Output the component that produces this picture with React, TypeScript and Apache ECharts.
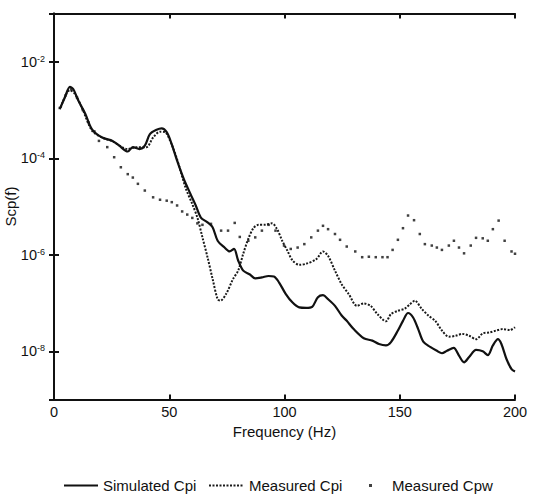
import React, { useEffect, useRef } from "react";
import * as echarts from "echarts";

// Frequency (Hz) / spectral value pairs, one array per curve
const simulatedCpi: [number, number][] = [
  [2.5, 1.05e-3], [4.7, 1.82e-3], [6.9, 3.02e-3], [8.4, 2.69e-3], [10.6, 1.55e-3],
  [13.6, 8.3e-4], [16.5, 3.98e-4], [20.9, 2.69e-4], [25.4, 2.29e-4], [28.3, 1.82e-4],
  [32.0, 1.38e-4], [34.2, 1.7e-4], [37.1, 1.55e-4], [39.4, 1.82e-4], [41.6, 3.16e-4],
  [44.5, 3.89e-4], [46.7, 4.17e-4], [48.9, 3.47e-4], [51.1, 1.95e-4], [53.4, 8.9e-5],
  [56.3, 3.72e-5], [59.2, 1.82e-5], [61.5, 1.05e-5], [63.7, 5.9e-6], [66.6, 4.68e-6],
  [68.8, 3.72e-6], [71.0, 1.95e-6], [74.0, 1.41e-6], [76.2, 1.17e-6], [78.1, 1.32e-6],
  [79.9, 7.6e-7], [82.1, 4.68e-7], [85.0, 3.89e-7], [87.3, 3.24e-7], [90.2, 3.39e-7],
  [93.1, 3.63e-7], [95.4, 3.55e-7], [97.6, 2.69e-7], [100.5, 1.55e-7], [103.5, 1.02e-7],
  [106.4, 8.1e-8], [109.4, 7.9e-8], [112.0, 8.3e-8], [114.5, 1.32e-7], [116.7, 1.45e-7],
  [118.9, 1.2e-7], [121.9, 8.7e-8], [124.8, 5.5e-8], [127.0, 4.27e-8], [130.0, 2.88e-8],
  [134.4, 1.86e-8], [138.1, 1.66e-8], [141.0, 1.41e-8], [144.0, 1.32e-8], [146.2, 1.55e-8],
  [149.2, 2.69e-8], [151.4, 4.27e-8], [153.6, 6.2e-8], [155.8, 5.0e-8], [158.0, 2.88e-8],
  [160.2, 1.58e-8], [163.2, 1.23e-8], [166.1, 1.02e-8], [168.3, 9.1e-9], [170.5, 1.02e-8],
  [173.4, 1.17e-8], [175.7, 8.1e-9], [177.9, 5.9e-9], [180.1, 7.6e-9], [183.1, 1.07e-8],
  [186.0, 1.0e-8], [188.2, 8.3e-9], [190.4, 1.32e-8], [192.6, 1.78e-8], [194.1, 1.41e-8],
  [196.3, 6.9e-9], [198.5, 4.27e-9], [200.0, 3.8e-9],
];

const measuredCpi: [number, number][] = [
  [2.9, 1.12e-3], [4.7, 1.86e-3], [6.9, 2.57e-3], [9.1, 2.14e-3], [12.1, 1.12e-3],
  [16.5, 3.72e-4], [20.9, 2.69e-4], [25.4, 2.24e-4], [32.0, 1.55e-4], [35.7, 1.7e-4],
  [40.1, 1.7e-4], [43.0, 2.69e-4], [46.0, 3.55e-4], [48.2, 3.47e-4], [50.4, 2.29e-4],
  [53.4, 9.5e-5], [57.0, 2.51e-5], [60.0, 1.12e-5], [62.2, 5.9e-6], [64.4, 2.29e-6],
  [66.6, 8.9e-7], [68.8, 3.16e-7], [71.0, 1.2e-7], [72.2, 1.12e-7], [74.7, 1.55e-7],
  [77.7, 3.16e-7], [79.9, 4.68e-7], [82.1, 1.05e-6], [84.3, 2.14e-6], [86.5, 3.55e-6],
  [88.7, 4.17e-6], [91.7, 4.17e-6], [94.6, 4.47e-6], [96.8, 3.39e-6], [99.0, 1.95e-6],
  [101.3, 1.2e-6], [103.5, 7.6e-7], [106.4, 6.2e-7], [109.4, 6.5e-7], [113.8, 8.1e-7],
  [116.7, 1.17e-6], [118.9, 9.5e-7], [121.9, 4.68e-7], [124.8, 2.45e-7], [127.8, 1.55e-7],
  [131.5, 8.7e-8], [134.4, 9.8e-8], [137.4, 8.7e-8], [140.3, 5.9e-8], [144.0, 4.17e-8],
  [146.2, 5.9e-8], [149.2, 6.9e-8], [152.1, 7.6e-8], [154.3, 9.3e-8], [156.5, 1.12e-7],
  [159.5, 7.6e-8], [162.4, 5.5e-8], [165.4, 4.27e-8], [168.3, 2.69e-8], [171.3, 2.0e-8],
  [174.2, 2.09e-8], [177.2, 2.29e-8], [180.1, 2.09e-8], [183.1, 1.78e-8], [186.0, 2.34e-8],
  [188.9, 2.45e-8], [191.9, 2.69e-8], [194.8, 2.88e-8], [197.8, 2.75e-8], [200.0, 3.16e-8],
];

const measuredCpw: [number, number][] = [
  [2.5, 1.1e-3], [5.0, 2.0e-3], [7.5, 2.7e-3], [10.0, 1.8e-3], [12.5, 1.0e-3],
  [15.0, 5.5e-4], [17.5, 3.6e-4], [19.5, 2.29e-4], [23.1, 1.7e-4], [26.1, 1.05e-4],
  [29.0, 6.5e-5], [32.0, 4.68e-5], [34.2, 3.98e-5], [36.4, 2.95e-5], [39.4, 2.14e-5],
  [43.0, 1.55e-5], [46.0, 1.38e-5], [48.9, 1.32e-5], [51.1, 1.23e-5], [53.4, 1.05e-5],
  [55.6, 7.9e-6], [57.8, 6.8e-6], [60.0, 5.8e-6], [62.2, 4.47e-6], [64.4, 4.17e-6],
  [68.1, 4.37e-6], [72.5, 3.16e-6], [75.5, 3.16e-6], [78.4, 4.57e-6], [80.6, 2.34e-6],
  [84.3, 1.95e-6], [87.3, 2.29e-6], [90.2, 3.16e-6], [93.1, 4.17e-6], [96.1, 3.16e-6],
  [99.8, 1.55e-6], [102.7, 1.32e-6], [105.7, 1.41e-6], [108.6, 1.66e-6], [111.6, 2.29e-6],
  [114.5, 3.16e-6], [116.7, 3.98e-6], [118.9, 3.39e-6], [121.9, 2.69e-6], [124.1, 2.04e-6],
  [127.0, 1.48e-6], [130.7, 1.17e-6], [133.7, 8.9e-7], [136.6, 9.1e-7], [139.6, 8.9e-7],
  [142.5, 8.9e-7], [144.7, 8.9e-7], [146.9, 1.26e-6], [149.2, 2.04e-6], [151.4, 3.55e-6],
  [153.6, 6.5e-6], [156.2, 5.2e-6], [158.7, 2.69e-6], [160.9, 1.66e-6], [163.9, 1.55e-6],
  [166.1, 1.41e-6], [168.3, 1.26e-6], [171.3, 1.55e-6], [173.5, 1.95e-6], [175.7, 1.41e-6],
  [177.9, 1.07e-6], [180.8, 1.55e-6], [183.1, 2.24e-6], [186.0, 2.19e-6], [188.2, 1.95e-6],
  [190.4, 3.39e-6], [192.9, 5.1e-6], [195.5, 1.95e-6], [198.5, 1.17e-6], [200.0, 1.05e-6],
];

const xTicks = [0, 50, 100, 150, 200];
const yLabelExponents = [-2, -4, -6, -8];

const FONT = '"Liberation Sans", Arial, sans-serif';
const INK = "#111";
const DOTTED: number[] = [2, 1.5];

function yLabel(value: number): string {
  const e = Math.log10(value);
  const r = Math.round(e);
  if (Math.abs(e - r) > 1e-6 || !yLabelExponents.includes(r)) return "";
  return `{base|10}{sup|${r}}`;
}

export default function App() {
  const ref = useRef<HTMLDivElement>(null);

  useEffect(() => {
    if (!ref.current) return;
    const chart = echarts.init(ref.current, undefined, { renderer: "svg" });

    const frameLine = { show: true, lineStyle: { color: INK, width: 2 } };
    const tick = { show: true, inside: true, length: 5, lineStyle: { color: INK, width: 2 } };
    const legendText = { fontSize: 15, color: INK, fontFamily: FONT };

    const yBase = {
      type: "log" as const,
      logBase: 100,
      min: 1e-9,
      max: 1e-1,
      axisLine: frameLine,
      axisTick: tick,
      splitLine: { show: false },
      minorTick: { show: false },
    };

    chart.setOption({
      animation: false,
      backgroundColor: "#fff",
      textStyle: { fontFamily: FONT, color: INK },
      grid: {
        left: 54,
        right: 18,
        top: 13.5,
        bottom: 98.5,
        containLabel: false,
        outerBoundsMode: "none",
      },
      xAxis: [
        {
          type: "value",
          min: xTicks[0],
          max: xTicks[xTicks.length - 1],
          interval: 50,
          position: "bottom",
          name: "Frequency (Hz)",
          nameLocation: "middle",
          nameGap: 18,
          nameTextStyle: { fontSize: 15, color: INK, fontFamily: FONT },
          axisLine: frameLine,
          axisTick: tick,
          splitLine: { show: false },
          axisLabel: { fontSize: 14.5, color: INK, fontFamily: FONT, margin: 5 },
        },
        {
          type: "value",
          min: xTicks[0],
          max: xTicks[xTicks.length - 1],
          interval: 50,
          position: "top",
          axisLine: frameLine,
          axisTick: tick,
          splitLine: { show: false },
          axisLabel: { show: false },
        },
      ],
      yAxis: [
        {
          ...yBase,
          position: "left",
          name: "Scp(f)",
          nameLocation: "middle",
          nameRotate: 90,
          nameGap: 36,
          nameMoveOverlap: false,
          nameTextStyle: { fontSize: 15, color: INK, fontFamily: FONT },
          axisLabel: {
            margin: 9,
            formatter: yLabel,
            showMinLabel: false,
            showMaxLabel: false,
            rich: {
              base: { fontSize: 14.5, color: INK, fontFamily: FONT },
              sup: { fontSize: 9, color: INK, fontFamily: FONT, verticalAlign: "top" },
            },
          },
        },
        {
          ...yBase,
          position: "right",
          axisLabel: { show: false },
        },
      ],
      legend: [
        {
          data: ["Simulated Cpi"],
          left: 63,
          top: 478,
          padding: 0,
          itemWidth: 34,
          itemHeight: 14,
          itemGap: 0,
          itemStyle: { opacity: 0 },
          textStyle: legendText,
        },
        {
          data: ["Measured Cpi"],
          left: 208,
          top: 478,
          padding: 0,
          itemWidth: 35,
          itemHeight: 14,
          itemGap: 0,
          itemStyle: { opacity: 0 },
          textStyle: legendText,
        },
        {
          data: [{ name: "Measured Cpw", icon: "rect" }],
          left: 369,
          top: 478,
          padding: 0,
          itemWidth: 3,
          itemHeight: 3,
          itemGap: 0,
          textStyle: { ...legendText, padding: [0, 0, 0, 15] },
        },
      ],
      series: [
        {
          name: "Measured Cpw",
          type: "scatter",
          xAxisIndex: 0,
          yAxisIndex: 0,
          data: measuredCpw,
          symbol: "rect",
          symbolSize: 2.5,
          itemStyle: { color: INK },
        },
        {
          name: "Measured Cpi",
          type: "line",
          xAxisIndex: 0,
          yAxisIndex: 0,
          data: measuredCpi,
          showSymbol: false,
          symbol: "none",
          smooth: 0.3,
          lineStyle: { color: "#1a1a1a", width: 2, type: DOTTED },
          itemStyle: { color: "#1a1a1a" },
        },
        {
          name: "Simulated Cpi",
          type: "line",
          xAxisIndex: 0,
          yAxisIndex: 0,
          data: simulatedCpi,
          showSymbol: false,
          symbol: "none",
          smooth: 0.3,
          lineStyle: { color: INK, width: 2.2 },
          itemStyle: { color: INK },
        },
      ],
    });

    return () => chart.dispose();
  }, []);

  return (
    <div
      ref={ref}
      style={{ position: "absolute", left: 0, top: 0, width: 533, height: 498, background: "#fff" }}
    />
  );
}
